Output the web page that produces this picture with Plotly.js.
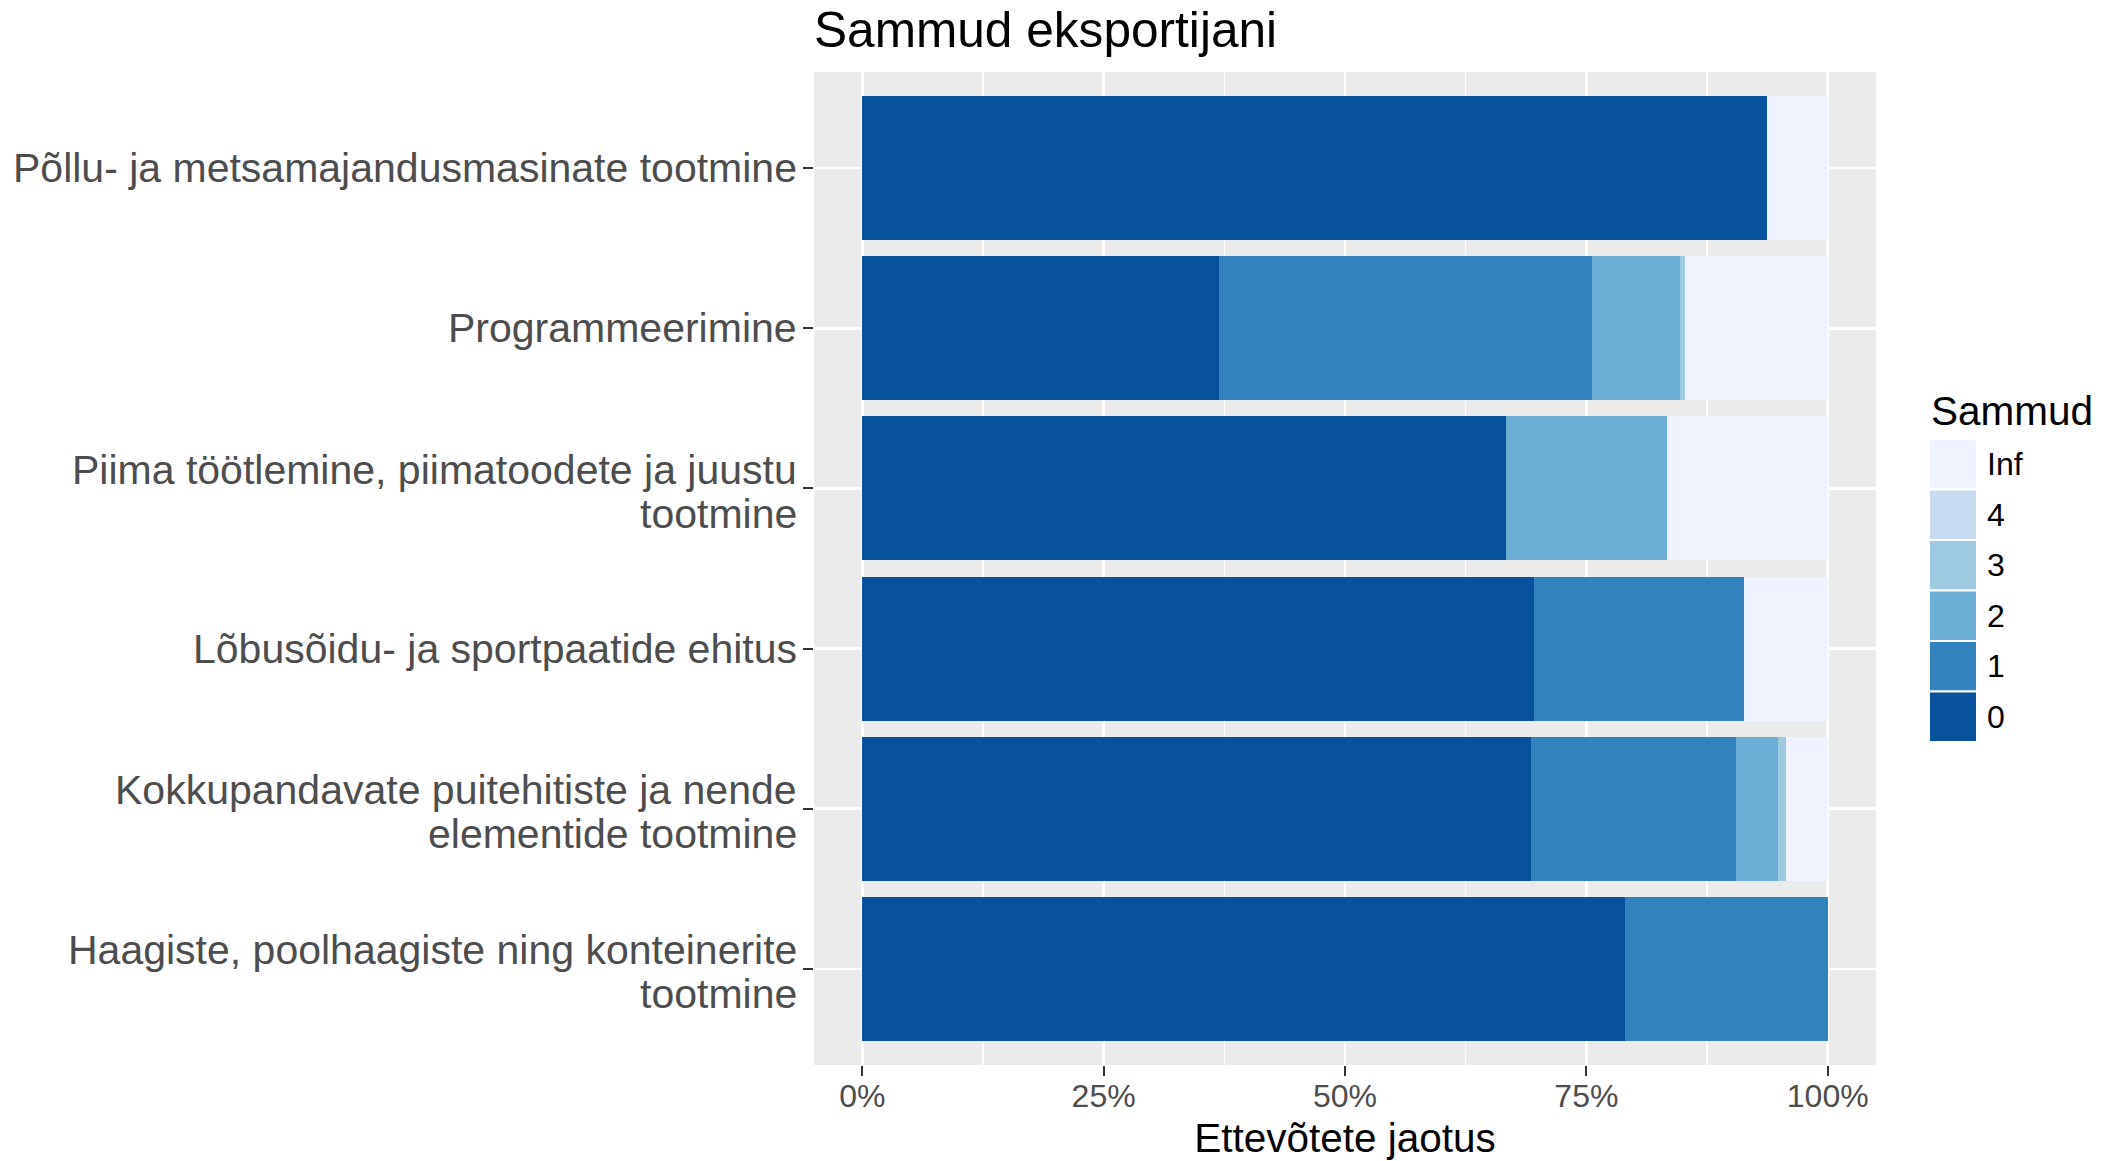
<!DOCTYPE html>
<html>
<head>
<meta charset="utf-8">
<script src="https://cdn.plot.ly/plotly-3.0.1.min.js"></script>
<style>html,body{margin:0;padding:0;background:#fff;}#chart{width:2112px;height:1161px;}</style>
</head>
<body>
<div id="chart"></div>
<script>
// Categories (top to bottom)
const categories = [
  "Põllu- ja metsamajandusmasinate tootmine",
  "Programmeerimine",
  "Piima töötlemine, piimatoodete ja juustu<br>tootmine",
  "Lõbusõidu- ja sportpaatide ehitus",
  "Kokkupandavate puitehitiste ja nende<br>elementide tootmine",
  "Haagiste, poolhaagiste ning konteinerite<br>tootmine"
];
// Step levels (stack order left to right)
const levels = ["0", "1", "2", "3", "4", "Inf"];
const levelColors = ["#08519c", "#3182bd", "#6baed6", "#9ecae1", "#c6dbef", "#eff3ff"];
// Shares per level
const step0   = [0.9375, 0.370, 0.6667, 0.6957, 0.693, 0.790];
const step1   = [0.0,    0.386, 0.0,    0.2174, 0.212, 0.210];
const step2   = [0.0,    0.091, 0.1667, 0.0,    0.043, 0.0];
const step3   = [0.0,    0.005, 0.0,    0.0,    0.009, 0.0];
const step4   = [0.0,    0.0,   0.0,    0.0,    0.0,   0.0];
const stepInf = [0.0625, 0.148, 0.1666, 0.0869, 0.043, 0.0];
const xTickVals = [0, 0.25, 0.5, 0.75, 1];
const xTickText = ["0%", "25%", "50%", "75%", "100%"];
const chartTitle = "Sammud eksportijani";
const xTitle = "Ettevõtete jaotus";
const legendTitle = "Sammud";

const series = [step0, step1, step2, step3, step4, stepInf];
const FONT = "Liberation Sans, Arial, sans-serif";

const traces = series.map((vals, i) => ({
  type: "bar",
  orientation: "h",
  x: vals,
  y: categories,
  name: levels[i],
  marker: { color: levelColors[i], line: { width: 0 } },
  showlegend: false,
  hoverinfo: "name+x"
}));

const W = 2112, H = 1161;
const PL = 814, PR = 1876, PT = 72, PB = 1065;
const px2x = v => (v - PL) / (PR - PL);
const px2y = v => 1 - (v - PT) / (PB - PT);

const shapes = [];
const annotations = [];

// Y category labels (tighter line spacing, as in the reference)
categories.forEach(cat => {
  const lines = cat.split("<br>");
  const n = lines.length;
  const gap = 44;
  lines.forEach((ln, j) => {
    const off = n === 1 ? 0 : (j - (n - 1) / 2) * gap + 3.5;
    annotations.push({
      xref: "paper", yref: "y", x: 0, y: cat,
      xanchor: "right", yanchor: "middle", xshift: -15, yshift: -off,
      showarrow: false, text: ln,
      font: { family: FONT, size: 41, color: "#4d4d4d" }
    });
  });
});

// Legend drawn as keys (top: Inf ... bottom: 0)
const keyX0 = 1929, keyX1 = 1977, keyTop = 439, keyH = 50.5;
const legendOrder = levels.slice().reverse();
const colorOrder = levelColors.slice().reverse();
legendOrder.forEach((lab, k) => {
  const y0 = keyTop + k * keyH;
  shapes.push({
    type: "rect", xref: "paper", yref: "paper", layer: "above",
    x0: px2x(keyX0), x1: px2x(keyX1),
    y0: px2y(y0 + keyH), y1: px2y(y0),
    fillcolor: colorOrder[k], line: { color: "#ffffff", width: 2 }
  });
  annotations.push({
    xref: "paper", yref: "paper",
    x: px2x(1985), y: px2y(y0 + keyH / 2),
    xanchor: "left", yanchor: "middle", showarrow: false,
    text: lab, font: { family: FONT, size: 32, color: "#000000" }
  });
});
annotations.push({
  xref: "paper", yref: "paper",
  x: px2x(1929), y: px2y(411),
  xanchor: "left", yanchor: "middle", showarrow: false,
  text: legendTitle, font: { family: FONT, size: 40.5, color: "#000000" }
});

const layout = {
  width: W, height: H,
  margin: { l: PL, r: W - PR, t: PT, b: H - PB, pad: 0 },
  paper_bgcolor: "#ffffff",
  plot_bgcolor: "#ebebeb",
  barmode: "stack",
  bargap: 0.1,
  showlegend: false,
  font: { family: FONT },
  title: {
    text: chartTitle,
    xref: "paper", x: 0, xanchor: "left",
    yref: "container", y: 1 - 30 / H, yanchor: "middle",
    font: { family: FONT, size: 49.6, color: "#000000" }
  },
  xaxis: {
    range: [-0.05, 1.05],
    tickvals: xTickVals, ticktext: xTickText,
    ticks: "outside", ticklen: 10, tickwidth: 2, tickcolor: "#333333",
    ticklabelstandoff: -7,
    tickfont: { family: FONT, size: 32, color: "#4d4d4d" },
    showgrid: true, gridcolor: "#ffffff", gridwidth: 2.6,
    minor: { tickvals: [0.125, 0.375, 0.625, 0.875], showgrid: true, gridcolor: "#ffffff", gridwidth: 1.2, ticks: "" },
    zeroline: false, showline: false,
    title: { text: xTitle, font: { family: FONT, size: 40.5, color: "#000000" }, standoff: 10 }
  },
  yaxis: {
    type: "category",
    categoryorder: "array", categoryarray: categories,
    range: [5.6, -0.6],
    ticks: "outside", ticklen: 10, tickwidth: 2, tickcolor: "#333333",
    showticklabels: false,
    showgrid: true, gridcolor: "#ffffff", gridwidth: 2.6,
    zeroline: false, showline: false
  },
  shapes: shapes,
  annotations: annotations
};

Plotly.newPlot("chart", traces, layout, { displayModeBar: false, staticPlot: true });
</script>
</body>
</html>
